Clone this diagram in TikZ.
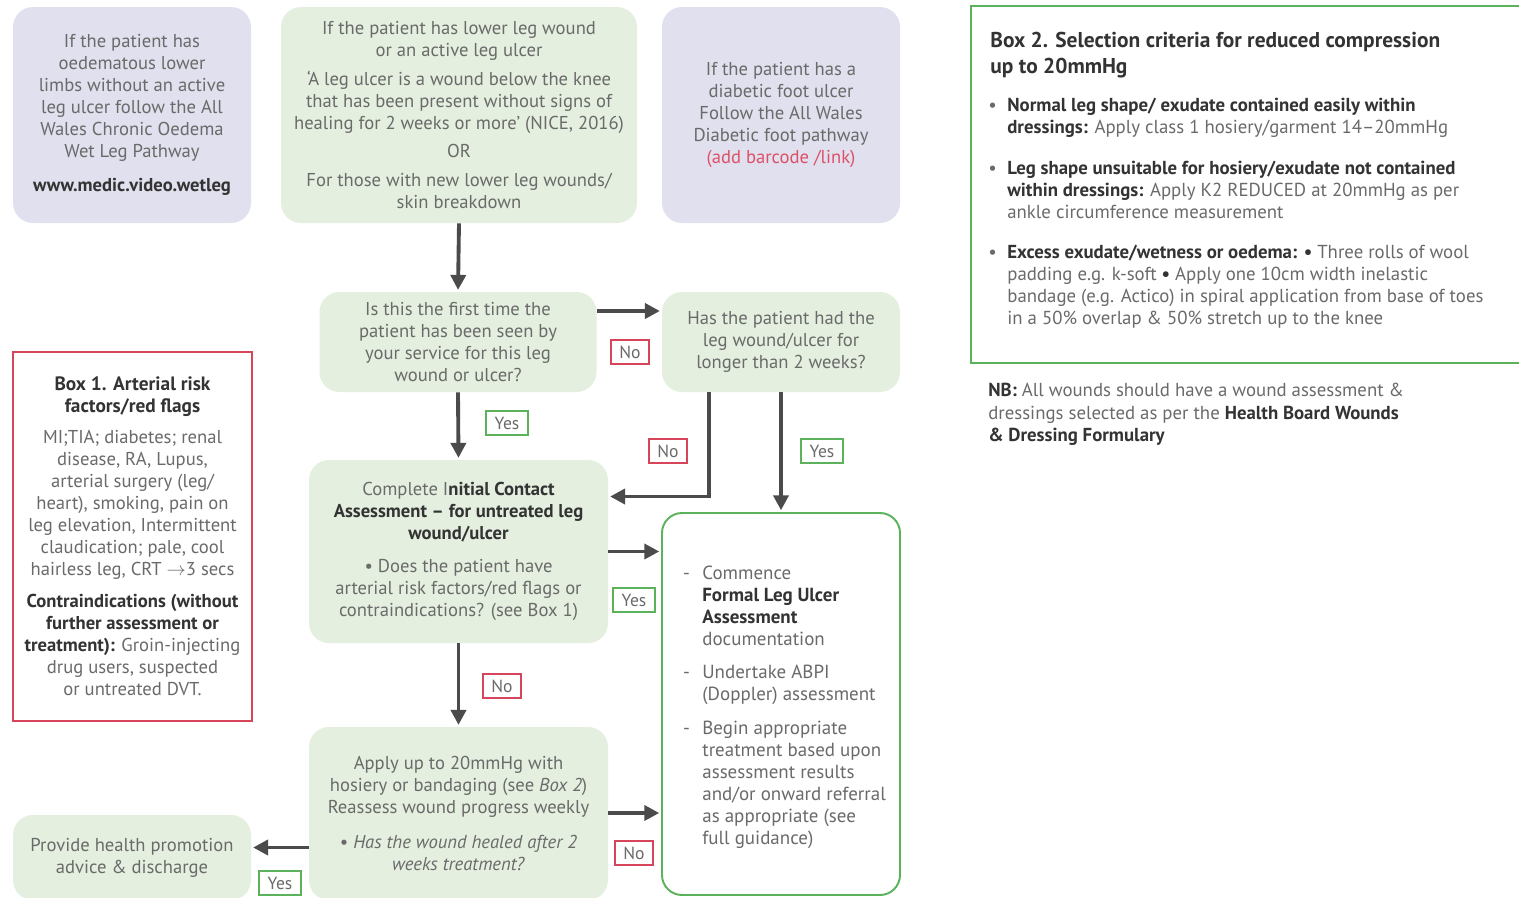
\documentclass[tikz,border=0pt]{standalone}
\usepackage{fontspec}
\setmainfont{PT Sans}
\usetikzlibrary{arrows.meta,calc}

\definecolor{lavfill}{HTML}{E0E0EE}
\definecolor{grnfill}{HTML}{E4EFDF}
\definecolor{txtgray}{HTML}{6A6A6A}
\definecolor{darktxt}{HTML}{333333}
\definecolor{redline}{HTML}{D6455A}
\definecolor{linkred}{HTML}{DE5068}
\definecolor{grnline}{HTML}{5BB25B}
\definecolor{arrgray}{HTML}{4B4B4B}

\def\px{0.02cm}
\newcommand{\hl}[1]{{\bfseries\color{darktxt}#1}}
\newcommand{\boxhead}[1]{{\fontsize{11}{13.5}\selectfont\bfseries\color{darktxt}#1}}
\newcommand{\bul}{\leavevmode\llap{\textbullet\hspace{6pt}}}
\newcommand{\dashitem}{\leavevmode\llap{-\hspace{7pt}}}

\begin{document}
\begin{tikzpicture}[x=\px, y=-\px, >/.tip={Triangle[length=0.3cm,width=0.3cm]},
    every node/.style={text=txtgray, font=\fontsize{10.6}{12.5}\selectfont, align=center},
    softbox/.style={rounded corners=0.4cm, inner sep=0pt},
    lavbox/.style={softbox, fill=lavfill},
    grnbox/.style={softbox, fill=grnfill},
    framebox/.style={draw=#1, line width=1.1pt, fill=white, inner sep=0pt},
    nolab/.style={draw=redline, line width=0.9pt, fill=white, inner sep=0pt,
        minimum width=38*\px, minimum height=24*\px, font=\fontsize{10}{12}\selectfont},
    yeslab/.style={nolab, draw=grnline, minimum width=42*\px},
    flow/.style={->, draw=arrgray, line width=2.2pt, shorten >=1pt},
    boxtext/.style={anchor=north west, align=left, inner sep=0pt}]
    \clip (0,0) rectangle (1519,897);

    % top row
    \node[lavbox, minimum width=238*\px, minimum height=216*\px] (wetleg) at (132,115)
        {If the patient has\\ oedematous lower\\ limbs without an active\\ leg ulcer follow the All\\
         Wales Chronic Oedema\\ Wet Leg Pathway\\[7pt] \hl{www.medic.video.wetleg}};
    \node[grnbox, minimum width=356*\px, minimum height=216*\px] (start) at (459,115)
        {If the patient has lower leg wound\\ or an active leg ulcer\\[4pt]
         `A leg ulcer is a wound below the knee\\ that has been present without signs of\\
         healing for 2 weeks or more' (NICE, 2016)\\[3.5pt] OR\\[3.5pt]
         For those with new lower leg wounds/\\ skin breakdown};
    \node[lavbox, minimum width=238*\px, minimum height=216*\px] (diabetic) at (781,115)
        {If the patient has a\\ diabetic foot ulcer\\ Follow the All Wales\\ Diabetic foot pathway\\
         \textcolor{linkred}{(add barcode /link)}};

    % questions
    \node[grnbox, minimum width=277*\px, minimum height=100*\px] (firsttime) at (458,342)
        {Is this the first time the\\ patient has been seen by\\ your service for this leg\\ wound or ulcer?};
    \node[grnbox, minimum width=238*\px, minimum height=100*\px] (twoweeks) at (781,342)
        {Has the patient had the\\ leg wound/ulcer for\\ longer than 2 weeks?};

    % box 1
    \node[framebox=redline, minimum width=239*\px, minimum height=369*\px] (boxone) at (132.5,536.5)
        {\boxhead{Box 1. Arterial risk}\\ \boxhead{factors/red flags}\\[5pt]
         MI;TIA; diabetes; renal\\ disease, RA, Lupus,\\ arterial surgery (leg/\\ heart), smoking, pain on\\
         leg elevation, Intermittent\\ claudication; pale, cool\\ hairless leg, CRT $\rightarrow$3 secs\\[6pt]
         \hl{Contraindications (without}\\ \hl{further assessment or}\\ \hl{treatment):} Groin-injecting\\
         drug users, suspected\\ or untreated DVT.};

    % assessment
    \node[grnbox, minimum width=299*\px, minimum height=183*\px] (initial) at (458.5,551.5)
        {Complete I\hl{nitial Contact}\\ \hl{Assessment -- for untreated leg}\\ \hl{wound/ulcer}\\[6.5pt]
         \textbullet\ Does the patient have\\ arterial risk factors/red flags or\\ contraindications? (see Box 1)};
    \node[framebox=grnline, rounded corners=0.4cm, minimum width=238*\px, minimum height=382*\px] (formal) at (781,704) {};
    \node[boxtext, font=\fontsize{10.8}{12.5}\selectfont] (formaltext) at (702,566)
        {\dashitem Commence\\ \hl{Formal Leg Ulcer}\\ \hl{Assessment}\\ documentation\\[6pt]
         \dashitem Undertake ABPI\\ (Doppler) assessment\\[7pt]
         \dashitem Begin appropriate\\ treatment based upon\\ assessment results\\ and/or onward referral\\
         as appropriate (see\\ full guidance)};

    % bottom row
    \node[grnbox, minimum width=299*\px, minimum height=173*\px] (apply) at (458.5,813.5)
        {Apply up to 20mmHg with\\ hosiery or bandaging (see \textit{Box 2})\\ Reassess wound progress weekly\\[7pt]
         \textbullet\ \textit{Has the wound healed after 2}\\ \textit{weeks treatment?}};
    \node[grnbox, minimum width=238*\px, minimum height=85*\px] (discharge) at (132,857.5)
        {Provide health promotion\\ advice \& discharge};

    % box 2 and note
    \node[framebox=grnline, anchor=north west, minimum width=570*\px, minimum height=357*\px] (boxtwo) at (970,5) {};
    \node[boxtext, font=\fontsize{12.2}{14.8}\selectfont\bfseries, text=darktxt] (boxtwohead) at (990,32)
        {Box 2. Selection criteria for reduced compression\\ up to 20mmHg};
    \node[boxtext, font=\fontsize{10.7}{12.5}\selectfont] (crit1) at (1007,98)
        {\bul\hl{Normal leg shape/ exudate contained easily within}\\ \hl{dressings:} Apply class 1 hosiery/garment 14--20mmHg};
    \node[boxtext, font=\fontsize{10.7}{12.5}\selectfont] (crit2) at (1007,161)
        {\bul\hl{Leg shape unsuitable for hosiery/exudate not contained}\\ \hl{within dressings:} Apply K2 REDUCED at 20mmHg as per\\
         ankle circumference measurement};
    \node[boxtext, font=\fontsize{10.7}{12.5}\selectfont] (crit3) at (1007,245)
        {\bul\hl{Excess exudate/wetness or oedema:} \hl{\textbullet} Three rolls of wool\\ padding e.g. k-soft \hl{\textbullet} Apply one 10cm width inelastic\\
         bandage (e.g. Actico) in spiral application from base of toes\\ in a 50\% overlap \& 50\% stretch up to the knee};
    \node[boxtext, font=\fontsize{10.7}{12.8}\selectfont] (note) at (988,383)
        {\hl{NB:} All wounds should have a wound assessment \&\\ dressings selected as per the \hl{Health Board Wounds}\\
         \hl{\& Dressing Formulary}};

    % connectors
    \coordinate (nobranch) at ($(twoweeks.south)+(-72,0)$);
    \coordinate (healed) at ($(apply.west)+(0,34)$);
    \draw[flow] (start.south) -- (firsttime.north);
    \draw[flow] ($(firsttime.east)+(0,-31)$) -- ($(twoweeks.west)+(0,-31)$);
    \draw[flow] (firsttime.south) -- (initial.north);
    \draw[flow] (nobranch) |- ($(initial.east)+(0,-55)$);
    \draw[flow] (twoweeks.south) -- (formal.north);
    \draw[flow] (initial.east) -- (initial.east -| formal.west);
    \draw[flow] (initial.south) -- (apply.north);
    \draw[flow] ($(apply.east)+(0,-0.5)$) -- ($(apply.east -| formal.west)+(0,-0.5)$);
    \draw[flow] (healed) -- (healed -| discharge.east);

    \node[nolab] (no1) at (630,352) {No};
    \node[yeslab] (yes1) at (507,423) {Yes};
    \node[nolab] (no2) at (668,451) {No};
    \node[yeslab] (yes2) at (822,451) {Yes};
    \node[yeslab] (yes3) at (634,600) {Yes};
    \node[nolab] (no3) at (502,686) {No};
    \node[nolab] (no4) at (634,853) {No};
    \node[yeslab] (yes4) at (280,883) {Yes};
\end{tikzpicture}
\end{document}
